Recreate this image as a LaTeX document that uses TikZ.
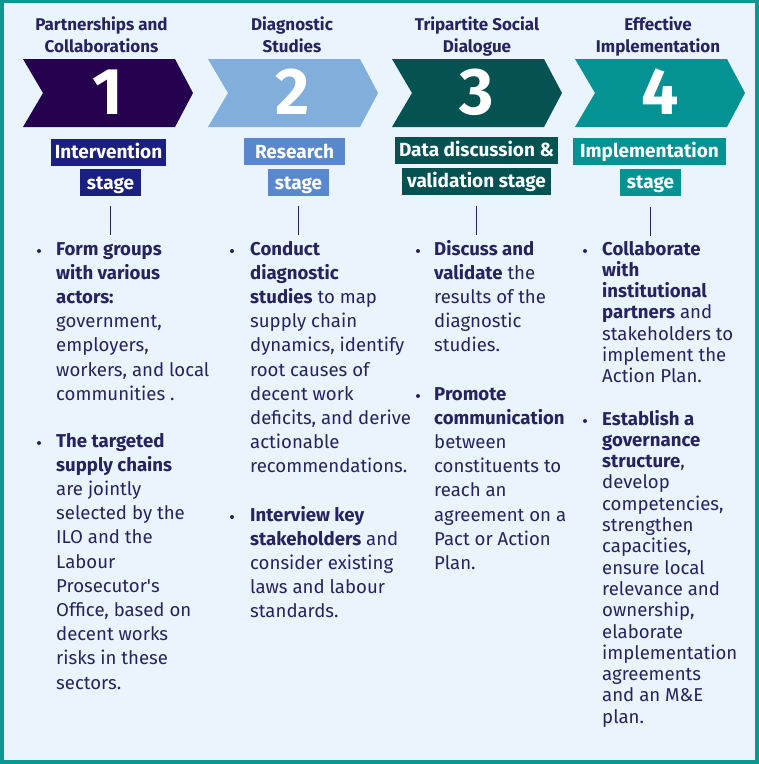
\documentclass[tikz,border=0pt]{standalone}
\usepackage{fontspec}
\setmainfont{Fira Sans}
\usetikzlibrary{positioning}
\definecolor{navy}{HTML}{26235E}
\definecolor{frame}{HTML}{0C9892}
\definecolor{paper}{HTML}{EAF4FD}
\definecolor{purple1}{HTML}{24004E}
\definecolor{blue2}{HTML}{82AEDB}
\definecolor{teal3}{HTML}{055252}
\definecolor{teal4}{HTML}{049292}
\definecolor{box1}{HTML}{1A1F80}
\definecolor{box2}{HTML}{5A88CF}

\begin{document}
\begin{tikzpicture}[
        x=1pt, y=-1pt,
        title/.style={
          font=\fontsize{17}{22}\selectfont\bfseries,
          text=navy,
          align=center,
          anchor=base
        },
        number/.style={
          font=\fontsize{66}{66}\selectfont\bfseries,
          text=white,
          anchor=base
        },
        stage/.style={
          font=\fontsize{19}{19}\selectfont\bfseries,
          text=white,
          minimum height=27pt,
          text height=13pt,
          text depth=0pt,
          inner xsep=4pt,
          inner ysep=0pt
        },
        item/.style={
          font=\fontsize{18.6}{24.2}\selectfont,
          text=navy,
          align=left,
          anchor=base west,
          inner sep=0pt
        },
        dot/.style={
          circle,
          fill=navy,
          inner sep=0pt,
          minimum size=4pt
        },
        stem/.style={
          draw=navy,
          line width=1.6pt
        }
      ]

      % Frame
      \fill[frame] (0,0) rectangle (759,764);
      \fill[paper] (4,3) rectangle (755,760);

      % Chevrons
      \fill[purple1] (23,59) -- (175,59) -- (193,93) -- (175,127) -- (23,127) -- (43,93) -- cycle;
      \fill[blue2] (208,59) -- (360,59) -- (378,93) -- (360,127) -- (208,127) -- (228,93) -- cycle;
      \fill[teal3] (392,59) -- (544,59) -- (562,93) -- (544,127) -- (392,127) -- (412,93) -- cycle;
      \fill[teal4] (575,59) -- (727,59) -- (745,93) -- (727,127) -- (575,127) -- (595,93) -- cycle;

      \node[number] (n1) at (108,114) {1};
      \node[number] (n2) at (293,114) {2};
      \node[number] (n3) at (477,114) {3};
      \node[number] (n4) at (660,114) {4};

      % Titles (base = last line)
      \node[title] (t1) at (101.5,52) {Partnerships and\\Collaborations};
      \node[title] (t2) at (292,52) {Diagnostic\\Studies};
      \node[title] (t3) at (477,52) {Tripartite Social\\Dialogue};
      \node[title] (t4) at (658,52) {Effective\\Implementation};

      % Stage labels
      \node[stage, fill=box1, minimum width=115pt] (s1a) at (108.5,152) {Intervention};
      \node[stage, fill=box1, minimum width=61pt] (s1b) at (110.5,182.5) {stage};
      \node[stage, fill=box2, minimum width=101pt] (s2a) at (294.5,151.5) {Research};
      \node[stage, fill=box2, minimum width=61pt] (s2b) at (298.5,182.5) {stage};
      \node[stage, fill=teal3, minimum width=163pt] (s3a) at (476.5,150) {Data discussion \&};
      \node[stage, fill=teal3, minimum width=149pt] (s3b) at (476.5,181) {validation stage};
      \node[stage, fill=teal4, minimum width=153pt] (s4a) at (649.5,151) {Implementation};
      \node[stage, fill=teal4, minimum width=61pt] (s4b) at (650.5,182) {stage};

      \draw[stem] ([yshift=-10pt]s1b.south) -- ([yshift=-39pt]s1b.south);
      \draw[stem] ([yshift=-10pt]s2b.south) -- ([yshift=-39pt]s2b.south);
      \draw[stem] ([yshift=-11pt]s3b.south) -- ([yshift=-40pt]s3b.south);
      \draw[stem] ([yshift=-11pt]s4b.south) -- ([yshift=-40pt]s4b.south);

      % Column 1 (base = last line)
      \node[dot] (d1a) at (39,251) {};
      \node[item] (c1a) at (56,400.2) {\textbf{Form groups}\\\textbf{with various}\\\textbf{actors:}\\government,\\employers,\\workers, and local\\communities .};
      \node[dot] (d1b) at (39,443) {};
      \node[item] (c1b) at (56,689) {\textbf{The targeted}\\\textbf{supply chains}\\are jointly\\selected by the\\ILO and the\\Labour\\Prosecutor\textquotesingle s\\Office, based on\\decent works\\risks in these\\sectors.};

      % Column 2
      \node[dot] (d2a) at (232,251) {};
      \node[item] (c2a) at (250,472.8) {\textbf{Conduct}\\\textbf{diagnostic}\\\textbf{studies} to map\\supply chain\\dynamics, identify\\root causes of\\decent work\\deficits, and derive\\actionable\\recommendations.};
      \node[dot] (d2b) at (232,517) {};
      \node[item] (c2b) at (250,617.8) {\textbf{Interview key}\\\textbf{stakeholders} and\\consider existing\\laws and labour\\standards.};

      % Column 3
      \node[dot] (d3a) at (418,251) {};
      \node[item] (c3a) at (434,351.8) {\textbf{Discuss and}\\\textbf{validate} the\\results of the\\diagnostic\\studies.};
      \node[dot] (d3b) at (418,396) {};
      \node[item] (c3b) at (434,569.4) {\textbf{Promote}\\\textbf{communication}\\between\\constituents to\\reach an\\agreement on a\\Pact or Action\\Plan.};

      % Column 4
      \node[dot] (d4a) at (585,251) {};
      \node[item, font=\fontsize{18.6}{21.3}\selectfont] (c4a) at (602,382.8) {\textbf{Collaborate}\\\textbf{with}\\\textbf{institutional}\\\textbf{partners} and\\stakeholders to\\implement the\\Action Plan.};
      \node[dot] (d4b) at (585,421) {};
      \node[item, font=\fontsize{18.6}{21.3}\selectfont] (c4b) at (602,723.2) {\textbf{Establish a}\\\textbf{governance}\\\textbf{structure},\\develop\\competencies,\\strengthen\\capacities,\\ensure local\\relevance and\\ownership,\\elaborate\\implementation\\agreements\\and an M\&E\\plan.};

    \end{tikzpicture}
\end{document}
